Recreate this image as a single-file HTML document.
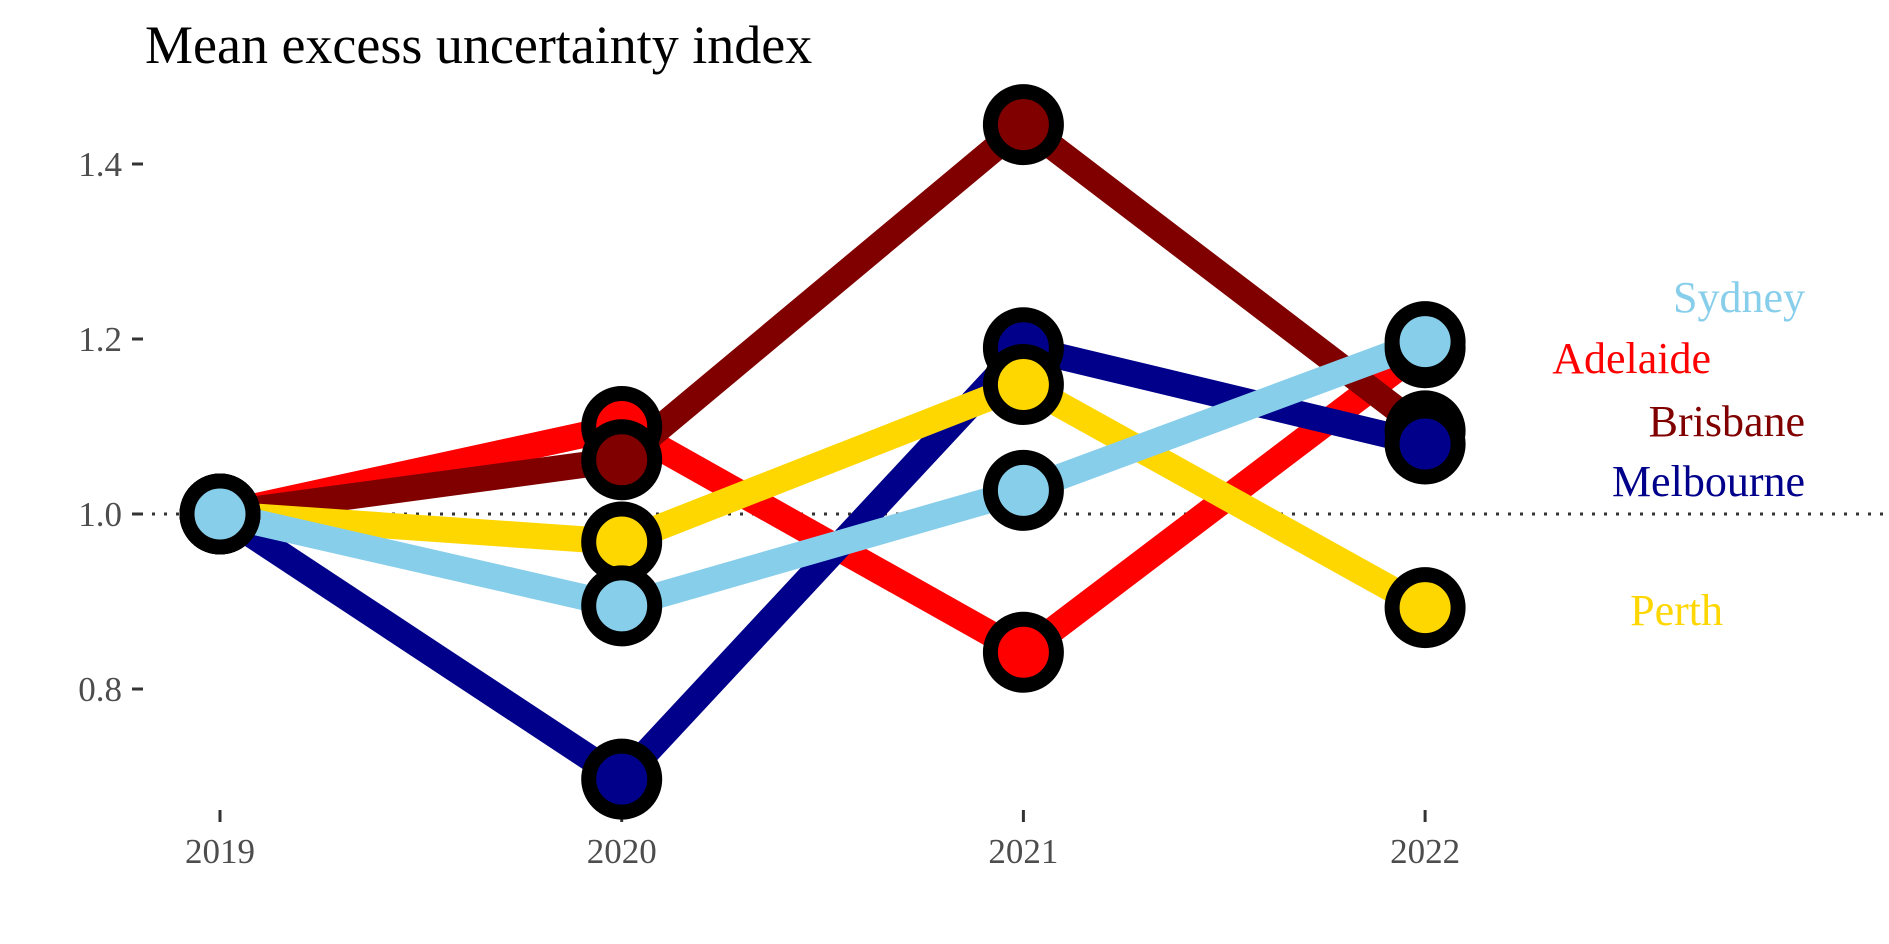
<!DOCTYPE html>
<html><head><meta charset="utf-8"><style>
body{margin:0;background:#fff}
svg{display:block;font-family:"Liberation Serif",serif}
</style></head><body>
<svg id="chart" width="1889" height="944" viewBox="0 0 1889 944">
<text x="145" y="63" font-size="54" fill="#000">Mean excess uncertainty index</text>
<g id="axes"></g><g id="lines"></g><g id="points"></g><g id="labels"></g>
</svg>
<script>
const years=[2019,2020,2021,2022];
const yTicks=[0.8,1.0,1.2,1.4];
const seriesNames=["Adelaide","Brisbane","Melbourne","Perth","Sydney"];
const colors=["#ff0000","#800000","#00008b","#ffd700","#87ceeb"];
const adelaide=[1.0,1.10,0.842,1.19];
const brisbane=[1.0,1.062,1.445,1.095];
const melbourne=[1.0,0.697,1.19,1.08];
const perth=[1.0,0.968,1.148,0.893];
const sydney=[1.0,0.895,1.027,1.197];
const values=[adelaide,brisbane,melbourne,perth,sydney];
const labelPos=[[1711,359],[1805,422],[1805,482],[1723,611],[1805,298]];
const NS="http://www.w3.org/2000/svg";
const xs=i=>220+i*401.7;
const ys=v=>514-(v-1)*875;
function mk(p,t,a){const e=document.createElementNS(NS,t);for(const k in a)e.setAttribute(k,a[k]);p.appendChild(e);return e;}
const ax=document.getElementById('axes');
yTicks.forEach(t=>{
 const l=mk(ax,'line',{x1:132,x2:143,y1:ys(t),y2:ys(t),stroke:'#333','stroke-width':3});
 
 
 const tx=mk(ax,'text',{x:122,y:ys(t)+12,'text-anchor':'end','font-size':35,fill:'#4d4d4d'});
 tx.textContent=t.toFixed(1);
 
 
});
years.forEach((y,i)=>{
 const l=mk(ax,'line',{x1:xs(i),x2:xs(i),y1:810,y2:822,stroke:'#333','stroke-width':3});
 
 
 const tx=mk(ax,'text',{x:xs(i),y:863,'text-anchor':'middle','font-size':35,fill:'#4d4d4d'});
 tx.textContent=y;
 
 
});
const ref=mk(ax,'line',{x1:140,x2:1889,y1:ys(1),y2:ys(1),stroke:'#333','stroke-width':3,'stroke-dasharray':'3 9'});


const lg=document.getElementById('lines'),pg=document.getElementById('points'),lb=document.getElementById('labels');
values.forEach((vals,s)=>{
 const pl=mk(lg,'polyline',{points:vals.map((v,i)=>xs(i)+','+ys(v)).join(' '),fill:'none',stroke:colors[s],'stroke-width':26,'stroke-linejoin':'miter'});
 
 
});
values.forEach((vals,s)=>{
 vals.forEach((v,i)=>{
  const c=mk(pg,'circle',{cx:xs(i),cy:ys(v),r:33,fill:colors[s],stroke:'#000','stroke-width':15});
  
  
 });
 const t=mk(lb,'text',{x:labelPos[s][0],y:labelPos[s][1]+14,'text-anchor':'end','font-size':44,fill:colors[s]});
 t.textContent=seriesNames[s];
 
 
});
</script>
</body></html>
